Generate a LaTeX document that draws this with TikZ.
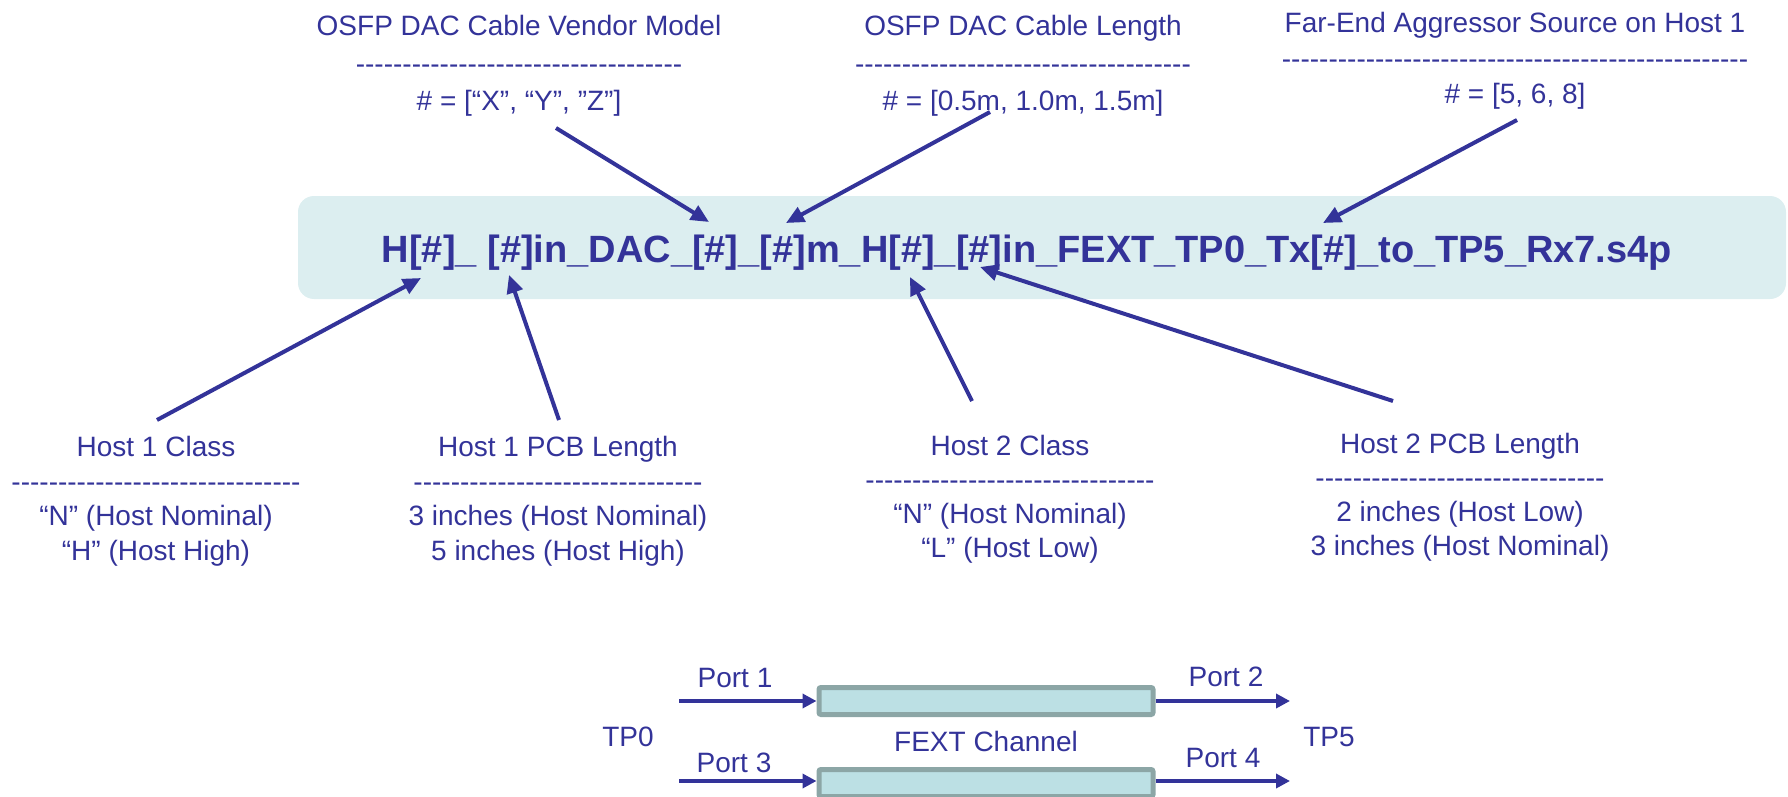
\documentclass[tikz,border=0pt]{standalone}
\usepackage{fontspec}
\setmainfont{Liberation Sans}
\usetikzlibrary{arrows.meta}
\definecolor{navy}{RGB}{51,51,153}
\definecolor{boxfill}{RGB}{220,238,240}
\definecolor{chanfill}{RGB}{188,224,228}
\definecolor{chanedge}{RGB}{140,166,166}
\newcount\dashcnt
\newcommand\dashrow[1]{\dashcnt=0 \loop\hbox{-}\advance\dashcnt by 1 \ifnum\dashcnt<#1 \repeat}
\begin{document}
\begin{tikzpicture}[x=0.5pt,y=-0.5pt,
  lbl/.style={text=navy,font=\fontsize{14}{#1}\selectfont,align=center,inner sep=0pt,anchor=north},
  lbl/.default=17.5pt,
  ptr/.style={draw=navy,line width=2pt,-{Triangle[length=9pt,width=8pt]}},
  portarr/.style={draw=navy,line width=2pt,-{Triangle[length=7pt,width=7pt]}},
  chan/.style={draw=chanedge,fill=chanfill,line width=2.5pt,minimum width=167pt,minimum height=13.5pt,inner sep=0pt,rounded corners=1pt},
  txt/.style={text=navy,font=\fontsize{14}{16}\selectfont,inner sep=0pt}]
\useasboundingbox (0,0) rectangle (1788,797);

% main band and file name
\node[fill=boxfill,rounded corners=8pt,minimum width=744pt,minimum height=51.5pt,inner sep=0pt] (band) at (1042,247.5) {};
\node[text=navy,font=\bfseries\fontsize{19}{22}\selectfont,inner sep=0pt,anchor=base] (fname) at (1027,262)
  {H[\#]\_ [\#]in\_DAC\_[\#]\_[\#]m\_H[\#]\_[\#]in\_FEXT\_TP0\_Tx[\#]\_to\_TP5\_Rx7.s4p};

% top labels
\node[lbl=18.75pt] (vendor) at (519,15) {OSFP DAC Cable Vendor Model\\\dashrow{35}\\\# = [“X”, “Y”, ”Z”]};
\node[lbl=18.75pt] (length) at (1023,15) {OSFP DAC Cable Length\\\dashrow{36}\\\# = [0.5m, 1.0m, 1.5m]};
\node[lbl=17.75pt] (fext) at (1515,12) {Far-End Aggressor Source on Host 1\\\dashrow{50}\\\# = [5, 6, 8]};

% bottom labels
\node[lbl=17.3pt] (h1c) at (156,436) {Host 1 Class\\\dashrow{31}\\“N” (Host Nominal)\\“H” (Host High)};
\node[lbl=17.3pt] (h1p) at (558,436) {Host 1 PCB Length\\\dashrow{31}\\3 inches (Host Nominal)\\5 inches (Host High)};
\node[lbl=17pt] (h2c) at (1010,435) {Host 2 Class\\\dashrow{31}\\“N” (Host Nominal)\\“L” (Host Low)};
\node[lbl=17pt] (h2p) at (1460,433) {Host 2 PCB Length\\\dashrow{31}\\2 inches (Host Low)\\3 inches (Host Nominal)};

% arrow end points
\coordinate (a1s) at (556,128);  \coordinate (a1e) at (709,222);
\coordinate (a2s) at (990,112);  \coordinate (a2e) at (786,223);
\coordinate (a3s) at (1517,120); \coordinate (a3e) at (1323,223);
\coordinate (b1s) at (157,420);  \coordinate (b1e) at (421,278);
\coordinate (b2s) at (559,420);  \coordinate (b2e) at (509,275);
\coordinate (b3s) at (972,401);  \coordinate (b3e) at (910,277);
\coordinate (b4s) at (1393,401); \coordinate (b4e) at (980,267);
\draw[ptr] (a1s) -- (a1e);
\draw[ptr] (a2s) -- (a2e);
\draw[ptr] (a3s) -- (a3e);
\draw[ptr] (b1s) -- (b1e);
\draw[ptr] (b2s) -- (b2e);
\draw[ptr] (b3s) -- (b3e);
\draw[ptr] (b4s) -- (b4e);

% FEXT channel diagram
\node[chan] (ch1) at (986,701) {};
\node[chan] (ch2) at (986,783) {};
\coordinate (p1s) at (679,701);
\coordinate (p2e) at (1290,701);
\coordinate (p3s) at (679,781);
\coordinate (p4e) at (1290,781);
\draw[portarr] (p1s) -- (ch1.west);
\draw[portarr] (ch1.east) -- (p2e);
\draw[portarr] (p3s) -- (ch2.west |- p3s);
\draw[portarr] (ch2.east |- p4e) -- (p4e);
\node[txt] (port1) at (735,678) {Port 1};
\node[txt] (port2) at (1226,677) {Port 2};
\node[txt] (port3) at (734,763) {Port 3};
\node[txt] (port4) at (1223,758) {Port 4};
\node[txt] (tp0) at (628,737) {TP0};
\node[txt] (tp5) at (1329,737) {TP5};
\node[txt] (fextch) at (986,741) {FEXT Channel};
\end{tikzpicture}
\end{document}
